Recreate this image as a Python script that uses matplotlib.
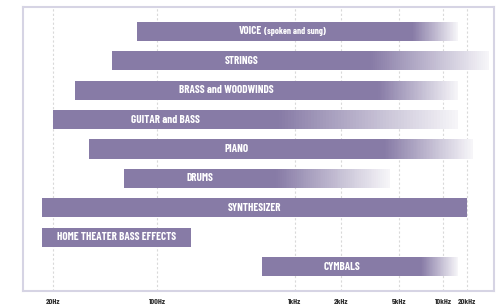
import numpy as np
import matplotlib
matplotlib.use("Agg")
import matplotlib.pyplot as plt
from matplotlib.colors import to_rgb

# frequency ranges of common sources (Hz)
instruments = ["VOICE", "STRINGS", "BRASS and WOODWINDS", "GUITAR and BASS", "PIANO",
               "DRUMS", "SYNTHESIZER", "HOME THEATER BASS EFFECTS", "CYMBALS"]
low_hz = [73, 50, 28, 20, 35, 60, 17, 17, 580]
fade_hz = [6200, 3200, 3600, 760, 4000, 730, 20000, 175, 7100]
high_hz = [15400, 38000, 15400, 15400, 23500, 4300, 20000, 175, 15400]

tick_hz = [20, 100, 1000, 2000, 5000, 10000, 20000]
tick_labels = ["20Hz", "100Hz", "1kHz", "2kHz", "5kHz", "10kHz", "20kHz"]
# the original axis is hand drawn: where each tick sits across the frame (pixels)
tick_px = [53, 157, 295, 341, 399, 443, 467]

bar_color = "#877ba6"
font = ["Barlow Condensed", "DejaVu Sans"]

lg = np.log10(tick_hz)
px = np.array(tick_px, dtype=float)
s_lo = (px[1] - px[0]) / (lg[1] - lg[0])
s_hi = (px[-1] - px[-2]) / (lg[-1] - lg[-2])


def forward(f):
    l = np.log10(np.clip(np.asarray(f, dtype=float), 1e-3, None))
    out = np.interp(l, lg, px)
    out = np.where(l < lg[0], px[0] + (l - lg[0]) * s_lo, out)
    out = np.where(l > lg[-1], px[-1] + (l - lg[-1]) * s_hi, out)
    return out


def inverse(p):
    p = np.asarray(p, dtype=float)
    l = np.interp(p, px, lg)
    l = np.where(p < px[0], lg[0] + (p - px[0]) / s_lo, l)
    l = np.where(p > px[-1], lg[-1] + (p - px[-1]) / s_hi, l)
    return 10 ** l


fig = plt.figure(figsize=(4.96, 3.05), dpi=100)
ax = fig.add_axes([23 / 496, 14 / 305, 471 / 496, 284 / 305])
ax.set_xscale("function", functions=(forward, inverse))
ax.set_xlim(inverse(23), inverse(494))
ax.set_ylim(8.83, -0.83)

h = 0.65
c0 = np.array(to_rgb(bar_color))
white = np.array([1.0, 1.0, 1.0])
for i, name in enumerate(instruments):
    ax.barh(i, fade_hz[i] - low_hz[i], left=low_hz[i], height=h,
            color=bar_color, linewidth=0, zorder=2)
    if high_hz[i] > fade_hz[i]:
        # gradient tail, evenly spaced across the drawn axis
        n = 60
        edges = inverse(np.linspace(forward(fade_hz[i]), forward(high_hz[i]), n + 1))
        for k in range(n):
            t = (k + 0.5) / n
            col = c0 * (1 - 0.93 * t) + white * 0.93 * t
            ax.barh(i, edges[k + 1] * 1.001 - edges[k], left=edges[k], height=h,
                    color=col, linewidth=0, antialiased=False, zorder=2)
    mid = inverse((forward(low_hz[i]) + forward(fade_hz[i])) / 2)
    if name == "VOICE":
        ax.annotate("VOICE", (mid, i), xytext=(-9.4, 0), textcoords="offset points",
                    ha="right", va="center", color="white", fontsize=8,
                    fontweight="bold", family=font, zorder=3)
        ax.annotate("(spoken and sung)", (mid, i), xytext=(-7.4, 0), textcoords="offset points",
                    ha="left", va="center", color="white", fontsize=6.6,
                    fontweight="bold", family=font, zorder=3)
    else:
        ax.text(mid, i, name, ha="center", va="center", color="white", fontsize=8,
                fontweight="bold", family=font, zorder=3)

ax.set_xticks(tick_hz)
ax.set_xticklabels(tick_labels, fontsize=6, fontweight="bold", family=font, color="#333333")
ax.xaxis.set_minor_locator(matplotlib.ticker.NullLocator())
ax.set_yticks([])
ax.tick_params(axis="x", length=0, pad=5.5)
ax.grid(axis="x", color="#d9d9d9", linestyle=(0, (2, 2)), linewidth=0.8, zorder=0)
ax.set_axisbelow(True)
for sp in ax.spines.values():
    sp.set_color("#d6d4e4")
    sp.set_linewidth(1.5)

fig.savefig("out.png", dpi=100)
